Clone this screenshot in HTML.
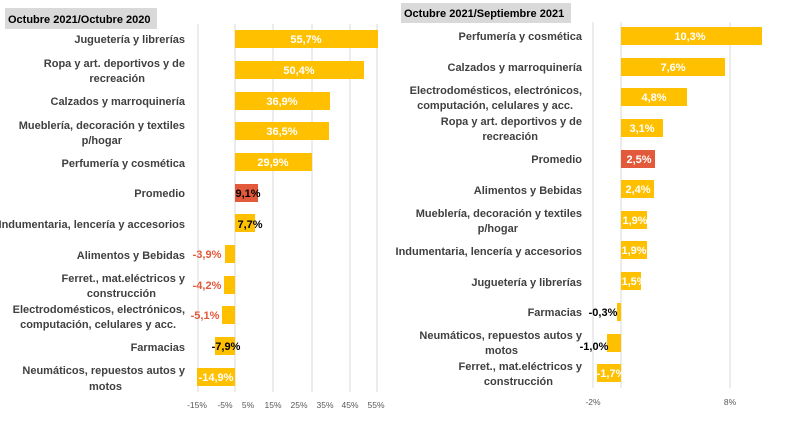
<!DOCTYPE html>
<html><head><meta charset="utf-8"><style>
body{margin:0;background:#fff;width:800px;height:421px;overflow:hidden;font-family:"Liberation Sans",sans-serif}
svg text{font-family:"Liberation Sans",sans-serif}
</style></head><body>
<svg width="800" height="421" xmlns="http://www.w3.org/2000/svg">
<rect x="5" y="8" width="152" height="21" fill="#d9d9d9"/>
<text x="8" y="23" font-size="11" font-weight="bold" fill="#000">Octubre 2021/Octubre 2020</text>
<rect x="401" y="3" width="170" height="20" fill="#d9d9d9"/>
<text x="404" y="17" font-size="11" font-weight="bold" fill="#000">Octubre 2021/Septiembre 2021</text>
<g stroke="#d9d9d9" stroke-width="1">
<line x1="198" y1="24" x2="198" y2="392"/><line x1="235" y1="24" x2="235" y2="392"/><line x1="273" y1="24" x2="273" y2="392"/><line x1="312" y1="24" x2="312" y2="392"/><line x1="350" y1="24" x2="350" y2="392"/><line x1="377" y1="24" x2="377" y2="392"/>
<line x1="593" y1="22" x2="593" y2="388"/><line x1="621" y1="22" x2="621" y2="388"/><line x1="730" y1="22" x2="730" y2="388"/>
</g>
<g font-size="8.5" fill="#595959" text-anchor="middle">
<text x="197" y="408">-15%</text><text x="225" y="408">-5%</text><text x="248" y="408">5%</text><text x="273" y="408">15%</text><text x="299" y="408">25%</text><text x="325" y="408">35%</text><text x="350" y="408">45%</text><text x="376" y="408">55%</text>
<text x="593" y="405">-2%</text><text x="730" y="405">8%</text>
</g>
<g font-size="11" font-weight="bold" fill="#404040" text-anchor="end">
<text x="185" y="43">Juguetería y librerías</text>
<text x="185" y="67">Ropa y art. deportivos y de</text><text x="145" y="82">recreación</text>
<text x="185" y="105">Calzados y marroquinería</text>
<text x="185" y="129">Mueblería, decoración y textiles</text><text x="122" y="144">p/hogar</text>
<text x="185" y="167">Perfumería y cosmética</text>
<text x="185" y="197">Promedio</text>
<text x="185" y="228">Indumentaria, lencería y accesorios</text>
<text x="185" y="259">Alimentos y Bebidas</text>
<text x="185" y="282">Ferret., mat.eléctricos y</text><text x="156" y="297">construcción</text>
<text x="185" y="313">Electrodomésticos, electrónicos,</text><text x="176" y="328">computación, celulares y acc.</text>
<text x="185" y="351">Farmacias</text>
<text x="185" y="374">Neumáticos, repuestos autos y</text><text x="122" y="390">motos</text>
<text x="582" y="40">Perfumería y cosmética</text>
<text x="582" y="71">Calzados y marroquinería</text>
<text x="582" y="94">Electrodomésticos, electrónicos,</text><text x="573" y="109">computación, celulares y acc.</text>
<text x="582" y="125">Ropa y art. deportivos y de</text><text x="538" y="140">recreación</text>
<text x="582" y="163">Promedio</text>
<text x="582" y="194">Alimentos y Bebidas</text>
<text x="582" y="217">Mueblería, decoración y textiles</text><text x="518" y="232">p/hogar</text>
<text x="582" y="255">Indumentaria, lencería y accesorios</text>
<text x="582" y="286">Juguetería y librerías</text>
<text x="582" y="316">Farmacias</text>
<text x="582" y="339">Neumáticos, repuestos autos y</text><text x="518" y="354">motos</text>
<text x="582" y="370">Ferret., mat.eléctricos y</text><text x="553" y="385">construcción</text>
</g>
<g fill="#ffc000">
<rect x="235" y="30" width="143" height="18"/>
<rect x="235" y="61" width="129" height="18"/>
<rect x="235" y="92" width="95" height="18"/>
<rect x="235" y="122" width="94" height="18"/>
<rect x="235" y="153" width="77" height="18"/>
<rect x="235" y="214" width="20" height="18"/>
<rect x="225" y="245" width="10" height="18"/>
<rect x="224" y="276" width="11" height="18"/>
<rect x="222" y="306" width="13" height="18"/>
<rect x="215" y="337" width="20" height="18"/>
<rect x="197" y="368" width="38" height="18"/>
<rect x="621" y="27" width="141" height="18"/>
<rect x="621" y="58" width="104" height="18"/>
<rect x="621" y="88" width="66" height="18"/>
<rect x="621" y="119" width="42" height="18"/>
<rect x="621" y="180" width="33" height="18"/>
<rect x="621" y="211" width="26" height="18"/>
<rect x="621" y="241" width="26" height="18"/>
<rect x="621" y="272" width="20" height="18"/>
<rect x="617" y="303" width="4" height="18"/>
<rect x="607" y="334" width="14" height="18"/>
<rect x="597" y="364" width="24" height="18"/>
</g>
<rect x="235" y="184" width="23" height="18" fill="#e2593b"/>
<rect x="621" y="150" width="34" height="18" fill="#e2593b"/>
<g font-size="11" font-weight="bold" text-anchor="middle">
<text x="306" y="43" fill="#fff">55,7%</text>
<text x="299" y="74" fill="#fff">50,4%</text>
<text x="282" y="105" fill="#fff">36,9%</text>
<text x="282" y="135" fill="#fff">36,5%</text>
<text x="273" y="166" fill="#fff">29,9%</text>
<text x="248" y="197" fill="#000">9,1%</text>
<text x="250" y="228" fill="#000">7,7%</text>
<text x="207" y="258" fill="#e2593b">-3,9%</text>
<text x="207" y="289" fill="#e2593b">-4,2%</text>
<text x="205" y="319" fill="#e2593b">-5,1%</text>
<text x="226" y="350" fill="#000">-7,9%</text>
<text x="216" y="381" fill="#fff">-14,9%</text>
<text x="690" y="40" fill="#fff">10,3%</text>
<text x="673" y="71" fill="#fff">7,6%</text>
<text x="654" y="101" fill="#fff">4,8%</text>
<text x="642" y="132" fill="#fff">3,1%</text>
<text x="639" y="163" fill="#fff">2,5%</text>
<text x="638" y="193" fill="#fff">2,4%</text>
<text x="635" y="224" fill="#fff">1,9%</text>
<text x="634" y="254" fill="#fff">1,9%</text>
<text x="634" y="285" fill="#fff">1,5%</text>
<text x="603" y="316" fill="#000">-0,3%</text>
<text x="594" y="350" fill="#000">-1,0%</text>
<text x="611" y="377" fill="#fff">-1,7%</text>
</g>
</svg>
</body></html>
